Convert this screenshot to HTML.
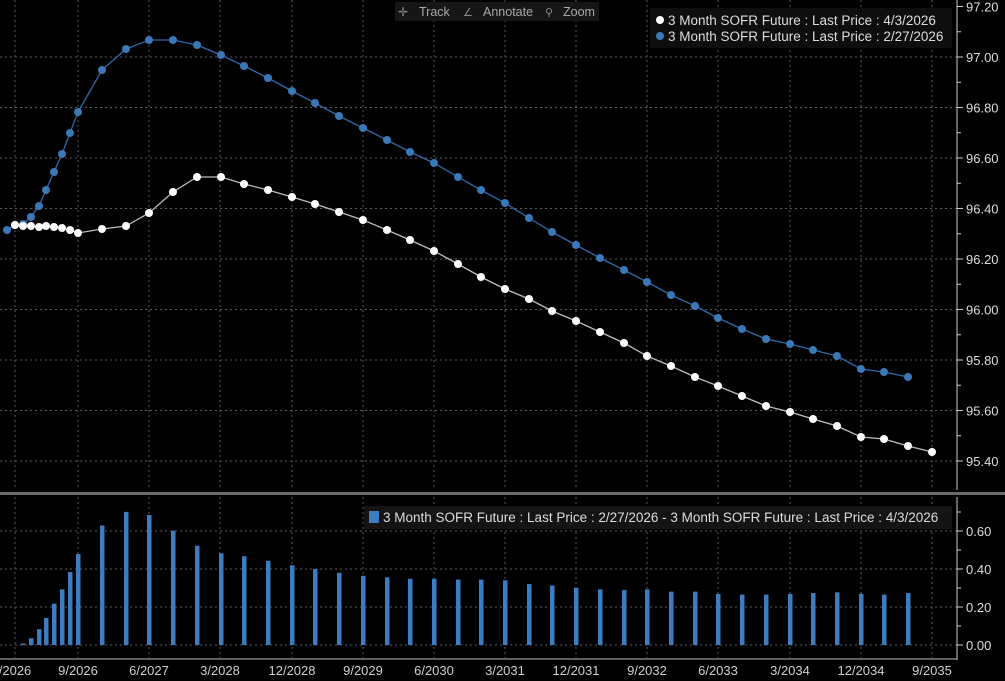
<!DOCTYPE html>
<html><head><meta charset="utf-8"><style>
html,body{margin:0;padding:0;background:#000;width:1005px;height:681px;overflow:hidden}
svg{display:block;font-family:"Liberation Sans",sans-serif}
</style></head><body>
<svg id="c" width="1005" height="681" xmlns="http://www.w3.org/2000/svg">
<rect width="1005" height="681" fill="#000"/>
<g id="grid" stroke="#5a5a5a" stroke-width="1" stroke-dasharray="2,3"></g>
<g id="bars" fill="#3d7cc0"></g>
<g id="lines"></g>
<g id="axes"></g>
<rect x="0" y="492" width="1005" height="3" fill="#6a6a6a"/>
<rect x="395" y="2" width="204" height="19" fill="#161616"/>
<text x="398" y="16" font-size="12" fill="#8a8a8a">✛</text>
<text x="419" y="16" font-size="12.5" fill="#a8a8a8">Track</text>
<text x="463" y="16" font-size="11" fill="#8a8a8a">∠</text>
<text x="483" y="16" font-size="12.5" fill="#a8a8a8">Annotate</text>
<text x="545" y="16" font-size="11" fill="#8a8a8a">⚲</text>
<text x="563" y="16" font-size="12.5" fill="#a8a8a8">Zoom</text>
<rect x="650" y="8" width="302" height="40" fill="#0e0e0e"/>
<circle cx="660" cy="20" r="4" fill="#fff"/>
<text x="668" y="25" font-size="13.5" fill="#ddd">3 Month SOFR Future : Last Price : 4/3/2026</text>
<circle cx="660" cy="36" r="4" fill="#3a78b8"/>
<text x="668" y="41" font-size="13.5" fill="#ddd">3 Month SOFR Future : Last Price : 2/27/2026</text>
<rect x="364" y="506" width="588" height="23" fill="#141414"/>
<rect x="369" y="511" width="10" height="12" fill="#3d7cc0"/>
<text x="383" y="522" font-size="13.5" fill="#ddd">3 Month SOFR Future : Last Price : 2/27/2026 - 3 Month SOFR Future : Last Price : 4/3/2026</text>
</svg>
<script>
var NS="http://www.w3.org/2000/svg";
function el(p,t,a,txt){var e=document.createElementNS(NS,t);for(var k in a)e.setAttribute(k,a[k]);if(txt!==undefined)e.textContent=txt;p.appendChild(e);return e;}
var grid=document.getElementById('grid'),axes=document.getElementById('axes'),bars=document.getElementById('bars'),lines=document.getElementById('lines');
var AX=957;
var vx=[15,78,149,220,292,363,434,505,576,647,718,790,861,932];
var vl=["/2026","9/2026","6/2027","3/2028","12/2028","9/2029","6/2030","3/2031","12/2031","9/2032","6/2033","3/2034","12/2034","9/2035"];
vx.forEach(function(x,i){el(grid,'line',{x1:x,y1:0,x2:x,y2:490});el(grid,'line',{x1:x,y1:497,x2:x,y2:658});
 el(axes,'text',{x:x,y:675,'font-size':13,fill:'#cfcfcf','text-anchor':'middle'},vl[i]);});
function Y(v){return 461-(v-95.4)*252.5;}
for(var i=0;i<=9;i++){var v=95.4+i*0.2,y=Y(v);
 if(i<9)el(grid,'line',{x1:0,y1:y,x2:AX,y2:y});
 el(axes,'line',{x1:AX,y1:y,x2:AX+6,y2:y,stroke:'#ccc'});
 el(axes,'line',{x1:AX,y1:y-25.25,x2:AX+4,y2:y-25.25,stroke:'#ccc'});
 el(axes,'text',{x:AX+9,y:y+5,'font-size':13,fill:'#ddd'},v.toFixed(2));}
el(axes,'line',{x1:AX,y1:0,x2:AX,y2:490,stroke:'#ccc'});
for(var i=0;i<=3;i++){var y=645-i*38;
 el(grid,'line',{x1:0,y1:y,x2:AX,y2:y});
 el(axes,'line',{x1:AX,y1:y,x2:AX+6,y2:y,stroke:'#ccc'});
 el(axes,'line',{x1:AX,y1:y-19,x2:AX+4,y2:y-19,stroke:'#ccc'});
 el(axes,'text',{x:AX+9,y:y+5,'font-size':13,fill:'#ddd'},(i*0.2).toFixed(2));}
el(axes,'line',{x1:AX,y1:497,x2:AX,y2:660,stroke:'#ccc'});
el(axes,'line',{x1:0,y1:659,x2:AX,y2:659,stroke:'#bbb'});
var X=[15,23,31,39,46,54,62,70,78];
for(var x=102;x<=933;x+=23.71)X.push(Math.round(x));
var W=[225,226,226,227,226,227,228,230,233,229,226,213,192,177,177,184,190,197,204,212,220,230,240,251,264,277,289,299,311,321,332,343,356,366,377,386,396,406,412,419,426,437,439,446,452];
var B=[225,224,217,206,190,172,154,133,112,70,49,40,40,45,55,66,78,91,103,116,128,140,152,163,177,190,203,218,232,245,258,270,282,295,306,318,329,339,344,350,356,369,372,377];
var bp=[[7,230]];B.forEach(function(y,i){bp.push([X[i],y]);});
var wp=W.map(function(y,i){return [X[i],y];});
B.forEach(function(y,i){var h=(W[i]-y)*0.752;if(h>0.5)el(bars,'rect',{x:X[i]-2,y:645-h,width:4.5,height:h});});
function pl(pts,col,fill){el(lines,'polyline',{points:pts.map(function(p){return p.join(',')}).join(' '),fill:'none',stroke:col,'stroke-width':1.3});
 pts.forEach(function(p){el(lines,'circle',{cx:p[0],cy:p[1],r:4,fill:fill});});}
pl(bp,'#2f6aa8','#3a78b8');
pl(wp,'#bdbdbd','#fff');
</script>
</body></html>
